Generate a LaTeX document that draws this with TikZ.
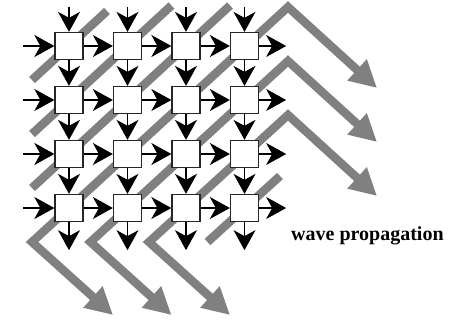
\documentclass[tikz,border=0pt]{standalone}
\usepackage{fontspec}
\setmainfont{Liberation Serif}
\usetikzlibrary{arrows.meta}
\definecolor{cBand}{HTML}{808080}
\definecolor{cEdge}{HTML}{262626}
\tikzset{
  cell/.style={draw=cEdge, line width=1.3pt, fill=white,
               minimum width=28pt, minimum height=27pt, inner sep=0pt},
  sig/.style={-{Stealth[length=20pt 0 1,width=22pt 0 1,inset=6pt 0 1]}, line width=1.1pt, black},
  band/.style={cBand, line width=8.5pt},
  wave/.style={band, {Triangle[length=27pt 0 1,width=27pt 0 1]}-{Triangle[length=27pt 0 1,width=27pt 0 1]}},
  tag/.style={font=\bfseries\fontsize{20}{24}\selectfont, inner sep=0pt}
}

\begin{document}
\begin{tikzpicture}[x=1pt, y=-1pt]
\useasboundingbox (0,0) rectangle (460,322);
% wave fronts behind the array
\draw[band] (32,80) -- (107,11);
\draw[band] (32,134) -- (171.5,5.5);
\draw[band] (32,188) -- (230,5.5);
\draw[wave] (113,315) -- (32,242) -- (288,7) -- (377,88);
\draw[wave] (171.5,315) -- (90.5,242) -- (288,61) -- (377,142);
\draw[wave] (230,315) -- (149,242) -- (288,115) -- (377,196);
\draw[band] (207.5,242) -- (280,176);
% processing cells
\foreach \i in {1,...,4}
  \foreach \j in {1,...,4}
    \node[cell] (c-\i-\j) at ({69+58.5*(\j-1)}, {46+54*(\i-1)}) {};
% inputs and outputs
\foreach \j in {1,...,4} {
  \draw[sig] ([yshift=25pt]c-1-\j.north) -- (c-1-\j.north);
  \draw[sig] (c-4-\j.south) -- ([yshift=-28pt]c-4-\j.south);
}
\foreach \i in {1,...,4} {
  \draw[sig] ([xshift=-31pt]c-\i-1.west) -- (c-\i-1.west);
  \draw[sig] (c-\i-4.east) -- ([xshift=27pt]c-\i-4.east);
}
% links between neighbours
\foreach \i [count=\k from 2] in {1,2,3}
  \foreach \j in {1,...,4} {
    \draw[sig] (c-\i-\j.south) -- (c-\k-\j.north);
    \draw[sig] (c-\j-\i.east) -- (c-\j-\k.west);
  }
\node[tag, anchor=base west] (lbl) at (291,240) {wave propagation};
\end{tikzpicture}
\end{document}
